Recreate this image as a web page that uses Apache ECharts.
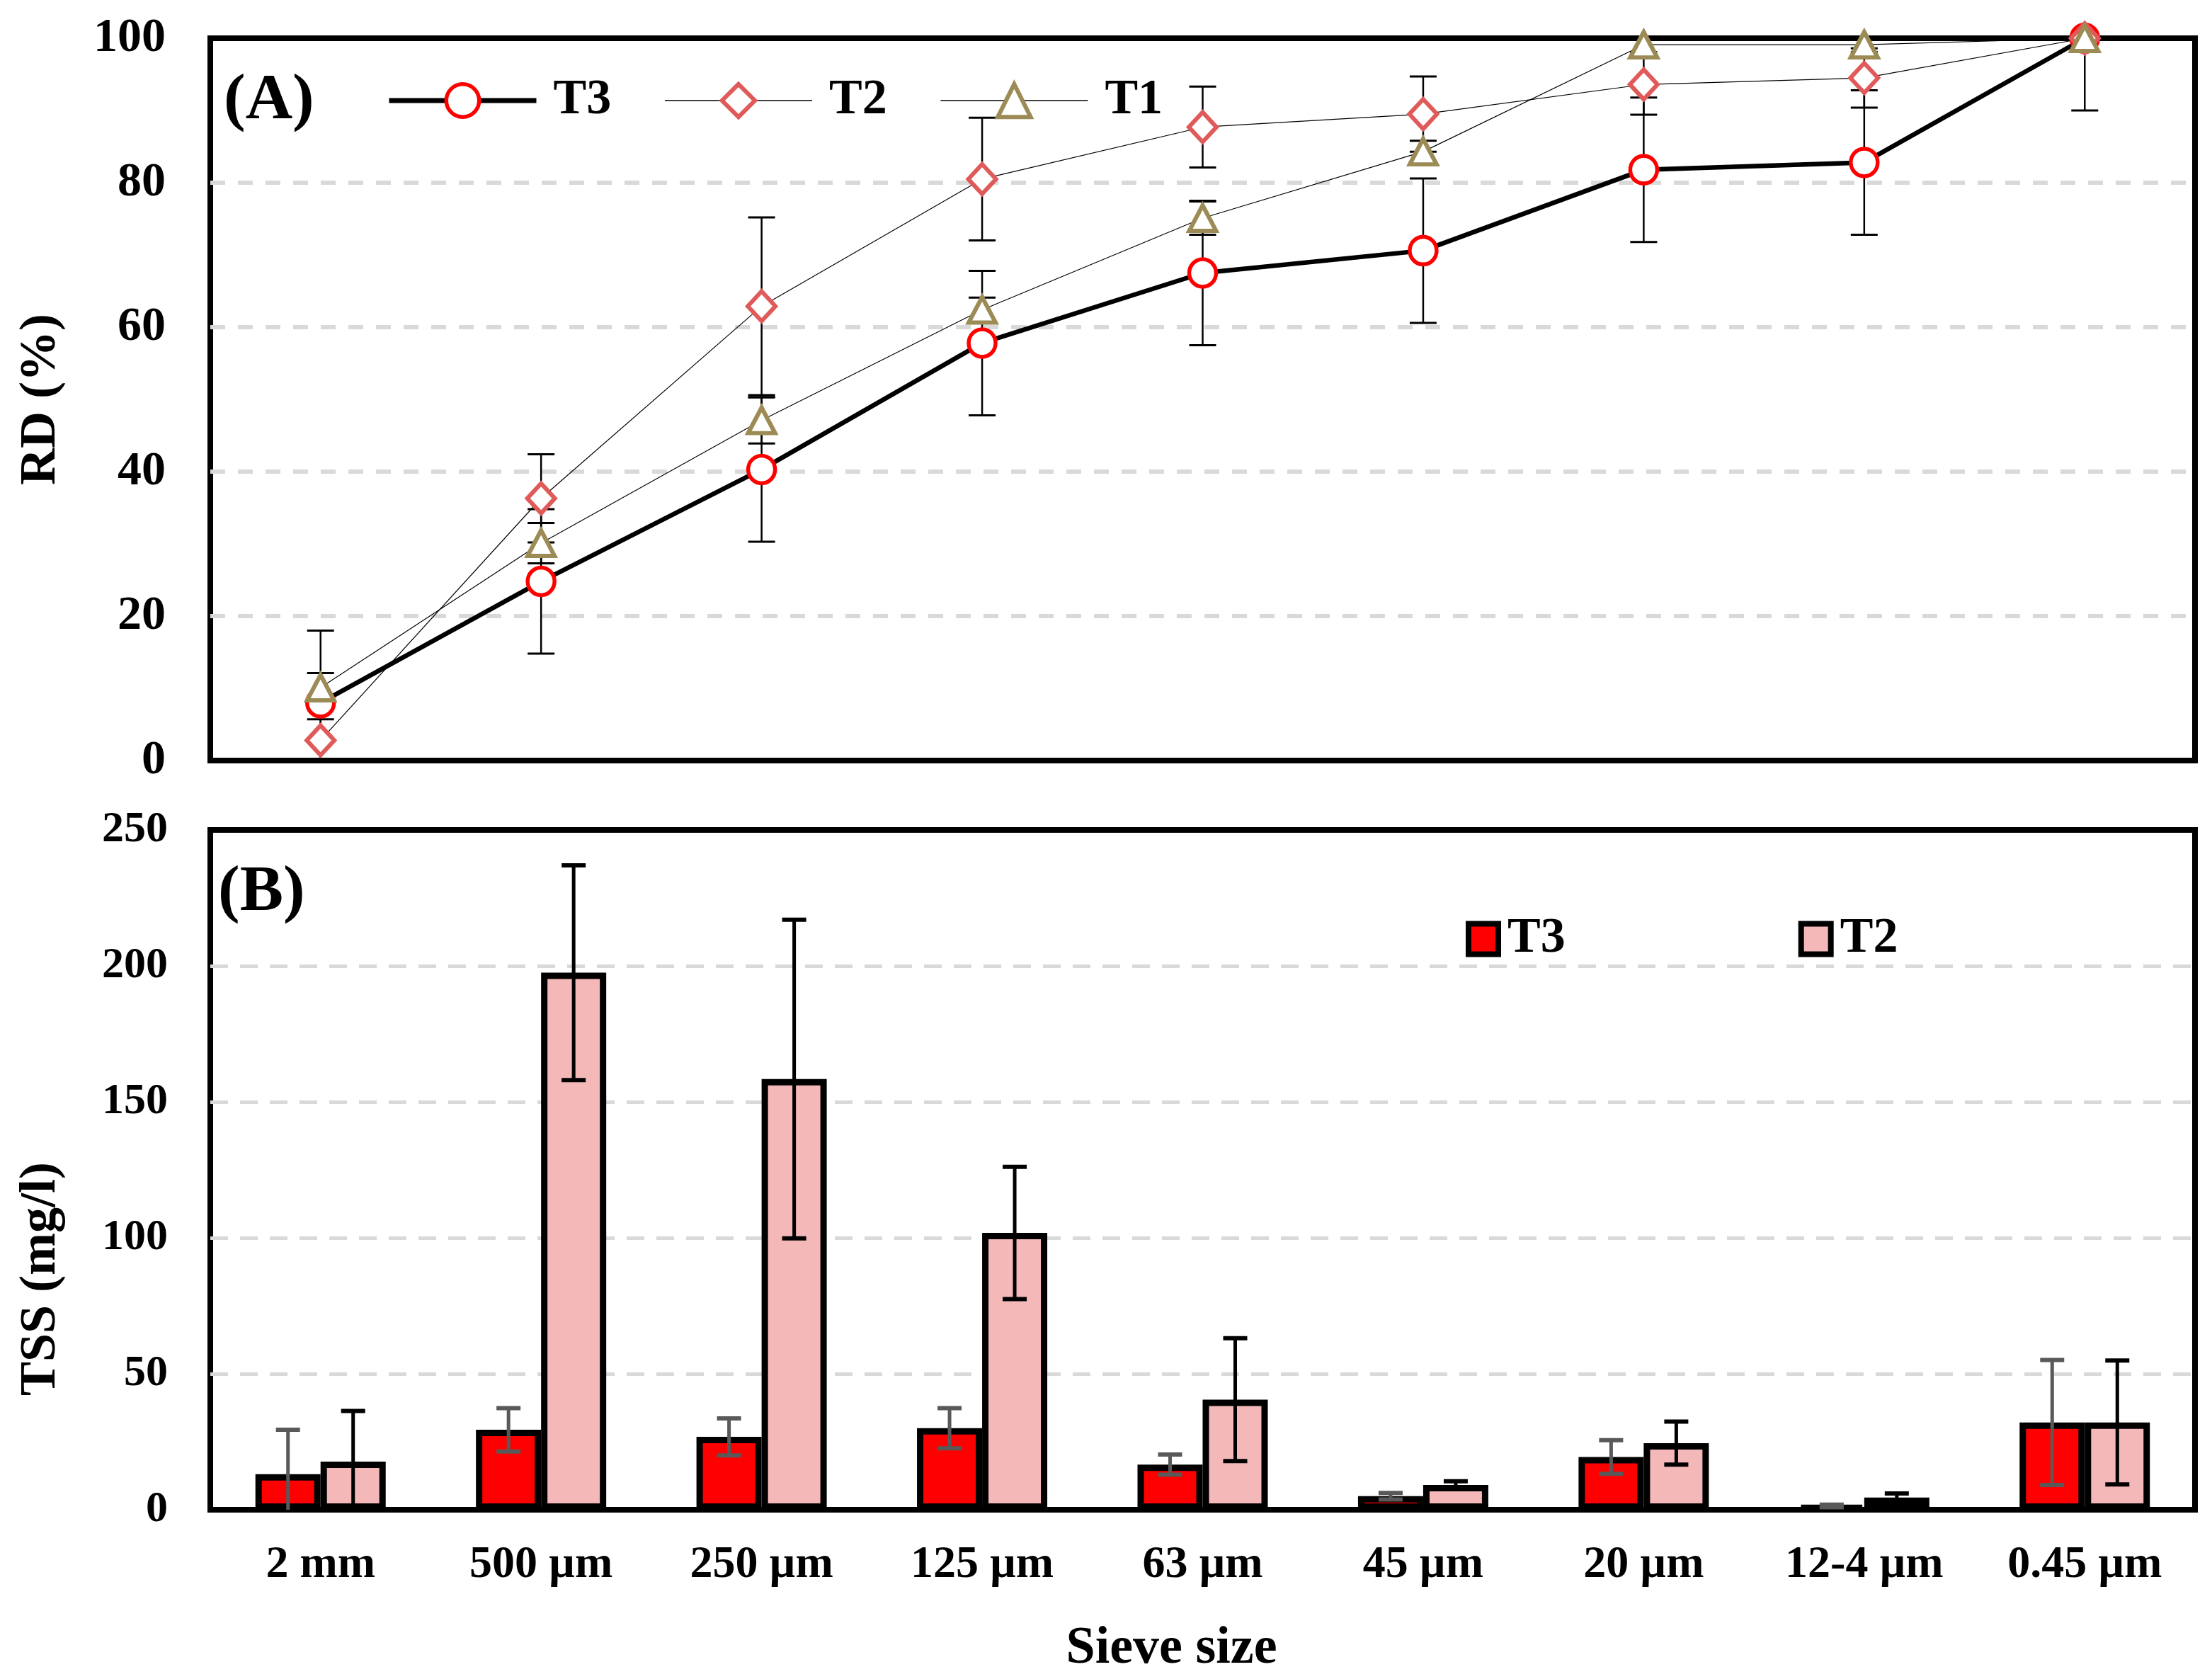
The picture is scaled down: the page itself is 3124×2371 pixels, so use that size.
<!DOCTYPE html>
<html>
<head>
<meta charset="utf-8">
<script src="https://cdn.jsdelivr.net/npm/echarts@6/dist/echarts.min.js"></script>
<style>
  html, body { margin: 0; padding: 0; background: #fff; }
  #chart { width: 3124px; height: 2371px; }
</style>
</head>
<body>
<div id="chart"></div>
<script>
// ---------- data ----------
const categories = ['2 mm', '500 µm', '250 µm', '125 µm', '63 µm', '45 µm', '20 µm', '12-4 µm', '0.45 µm'];

// (A) RD (%)
const rdT3    = [8.0, 24.8, 40.3, 57.8, 67.5, 70.6, 81.8, 82.8, 100];
const rdT3Err = [10, 10, 10, 10, 10, 10, 10, 10, 10];
const rdT2    = [2.8, 36.3, 62.9, 80.5, 87.7, 89.5, 93.6, 94.5, 100];
const rdT2Err = [2.9, 6.1, 12.3, 8.5, 5.6, 5.2, 4.2, 4.1, 0];
const rdT1    = [10.1, 30.1, 47.1, 62.4, 75.1, 84.3, 99.1, 99.1, 100];
const rdT1Err = [2.0, 2.8, 3.2, 1.7, 2.3, 1.5, 1.0, 1.0, 0];
const rdTicks = { min: 0, max: 100, interval: 20 };

// (B) TSS (mg/l)
const tssT3    = [13.1, 29.4, 26.8, 30.0, 16.6, 5.0, 19.4, 1.4, 32.1];
const tssT3Err = [16.3, 8.0, 6.8, 7.4, 3.7, 1.2, 6.2, 0.5, 23.0];
const tssT2    = [17.7, 197.5, 158.4, 101.8, 40.5, 9.1, 24.5, 4.5, 32.1];
const tssT2Err = [18.6, 39.5, 58.6, 24.3, 22.6, 1.4, 7.9, 1.5, 22.8];
const tssTicks = { min: 0, max: 250, interval: 50 };

// ---------- style ----------
const FONT = "'Liberation Serif', 'Times New Roman', serif";
const BAR_W = 92;

function errData(vals, errs) {
  return vals.map((v, i) => [i, v, errs[i]]);
}

function errRender(offset, color, lw, capW, capLw, yMin, yMax) {
  return function (params, api) {
    const i = api.value(0), v = api.value(1), e = api.value(2);
    if (!(e > 0)) return { type: 'group', children: [] };
    const hiV = Math.min(v + e, yMax), loV = Math.max(v - e, yMin);
    const hi = api.coord([i, hiV]);
    const lo = api.coord([i, loV]);
    const x = hi[0] + offset;
    const children = [{
      type: 'line',
      shape: { x1: x, y1: hi[1], x2: x, y2: lo[1] },
      style: { stroke: color, lineWidth: lw }
    }];
    if (v + e <= yMax) children.push({
      type: 'line',
      shape: { x1: x - capW / 2, y1: hi[1], x2: x + capW / 2, y2: hi[1] },
      style: { stroke: color, lineWidth: capLw }
    });
    if (v - e >= yMin) children.push({
      type: 'line',
      shape: { x1: x - capW / 2, y1: lo[1], x2: x + capW / 2, y2: lo[1] },
      style: { stroke: color, lineWidth: capLw }
    });
    return { type: 'group', children };
  };
}

const chart = echarts.init(document.getElementById('chart'), null, { renderer: 'canvas' });

const option = {
  backgroundColor: '#ffffff',
  animation: false,
  grid: [
    { left: 297, top: 54, width: 2803, height: 1020, show: true, borderColor: '#000', borderWidth: 8, backgroundColor: 'transparent' },
    { left: 297, top: 1172, width: 2803, height: 960, show: true, borderColor: '#000', borderWidth: 8, backgroundColor: 'transparent' }
  ],
  xAxis: [
    {
      type: 'category', gridIndex: 0, data: categories, boundaryGap: true,
      axisLine: { show: false }, axisTick: { show: false }, axisLabel: { show: false }, splitLine: { show: false }
    },
    {
      type: 'category', gridIndex: 1, data: categories, boundaryGap: true,
      axisLine: { show: false }, axisTick: { show: false }, splitLine: { show: false },
      axisLabel: { show: true, margin: 46, fontFamily: FONT, fontWeight: 'bold', fontSize: 64, color: '#000' },
      name: 'Sieve size', nameLocation: 'middle', nameGap: 160,
      nameTextStyle: { fontFamily: FONT, fontWeight: 'bold', fontSize: 74, color: '#000', padding: [0, 88, 0, 0] }
    }
  ],
  yAxis: [
    {
      type: 'value', gridIndex: 0, min: rdTicks.min, max: rdTicks.max, interval: rdTicks.interval,
      axisLine: { show: false }, axisTick: { show: false },
      axisLabel: { margin: 63, fontFamily: FONT, fontWeight: 'bold', fontSize: 68, color: '#000' },
      splitLine: { show: true, showMinLine: false, showMaxLine: false, lineStyle: { color: '#d9d9d9', width: 6, type: [21, 18] } },
      name: 'RD (%)', nameLocation: 'middle', nameGap: 203, nameRotate: 90,
      nameTextStyle: { fontFamily: FONT, fontWeight: 'bold', fontSize: 72, color: '#000' }
    },
    {
      type: 'value', gridIndex: 1, min: tssTicks.min, max: tssTicks.max, interval: tssTicks.interval,
      axisLine: { show: false }, axisTick: { show: false },
      axisLabel: { margin: 60, fontFamily: FONT, fontWeight: 'bold', fontSize: 62, color: '#000' },
      splitLine: { show: true, showMinLine: false, showMaxLine: false, lineStyle: { color: '#d9d9d9', width: 5, type: [25, 17] } },
      name: 'TSS (mg/l)', nameLocation: 'middle', nameGap: 203, nameRotate: 90,
      nameTextStyle: { fontFamily: FONT, fontWeight: 'bold', fontSize: 72, color: '#000', padding: [0, 308, 0, 0] }
    }
  ],
  legend: [
    {
      left: 546, top: 107, orient: 'horizontal', padding: 0,
      itemWidth: 208, itemHeight: 58, itemGap: 75,
      selectedMode: false,
      textStyle: { fontFamily: FONT, fontWeight: 'bold', fontSize: 70, color: '#000', padding: [0, 0, 0, 19] },
      data: [
        { name: 'T3', lineStyle: { color: '#000', width: 7 }, itemStyle: { color: '#fff', borderColor: '#ff0000', borderWidth: 5.5 } },
        { name: 'T2', lineStyle: { color: '#000', width: 1.5 }, itemStyle: { color: '#fff', borderColor: '#e05a5a', borderWidth: 6 } },
        { name: 'T1', lineStyle: { color: '#000', width: 1.5 }, itemStyle: { color: '#fff', borderColor: '#9c8b55', borderWidth: 6 } }
      ]
    },
    {
      left: 2070, top: 1291, orient: 'horizontal', padding: 0,
      itemWidth: 42, itemHeight: 43, itemGap: 329, icon: 'rect',
      selectedMode: false,
      formatter: function (name) { return name.replace(' TSS', ''); },
      textStyle: { fontFamily: FONT, fontWeight: 'bold', fontSize: 70, color: '#000', padding: [0, 0, 0, 8] },
      data: [
        { name: 'T3 TSS', itemStyle: { color: '#ff0000', borderColor: '#000', borderWidth: 8 } },
        { name: 'T2 TSS', itemStyle: { color: '#f4b8b8', borderColor: '#000', borderWidth: 8 } }
      ]
    }
  ],
  graphic: [
    { type: 'text', x: 316, y: 143, z: 100,
      style: { text: '(A)', fontFamily: FONT, fontWeight: 'bold', fontSize: 92, fill: '#000', align: 'left', verticalAlign: 'middle', textAlign: 'left', textVerticalAlign: 'middle' } },
    { type: 'text', x: 308, y: 1261, z: 100,
      style: { text: '(B)', fontFamily: FONT, fontWeight: 'bold', fontSize: 92, fill: '#000', align: 'left', verticalAlign: 'middle', textAlign: 'left', textVerticalAlign: 'middle' } }
  ],
  series: [
    // ----- (A) error bars -----
    { name: 'T3 err', type: 'custom', xAxisIndex: 0, yAxisIndex: 0, z: 1, clip: false,
      renderItem: errRender(0, '#000', 2.5, 38, 3, rdTicks.min, rdTicks.max), encode: { x: 0, y: 1 }, data: errData(rdT3, rdT3Err) },
    { name: 'T2 err', type: 'custom', xAxisIndex: 0, yAxisIndex: 0, z: 1, clip: false,
      renderItem: errRender(0, '#000', 2.5, 38, 3, rdTicks.min, rdTicks.max), encode: { x: 0, y: 1 }, data: errData(rdT2, rdT2Err) },
    { name: 'T1 err', type: 'custom', xAxisIndex: 0, yAxisIndex: 0, z: 1, clip: false,
      renderItem: errRender(0, '#000', 2.5, 38, 3, rdTicks.min, rdTicks.max), encode: { x: 0, y: 1 }, data: errData(rdT1, rdT1Err) },
    // ----- (A) lines -----
    { name: 'T3', type: 'line', xAxisIndex: 0, yAxisIndex: 0, z: 3, clip: false,
      data: rdT3, symbol: 'circle', symbolSize: [38, 39], showAllSymbol: true,
      lineStyle: { color: '#000', width: 6.5 },
      itemStyle: { color: '#fff', borderColor: '#ff0000', borderWidth: 5.5 } },
    { name: 'T2', type: 'line', xAxisIndex: 0, yAxisIndex: 0, z: 3, clip: false,
      data: rdT2, symbol: 'diamond', symbolSize: [39, 42], showAllSymbol: true,
      lineStyle: { color: '#000', width: 1.2 },
      itemStyle: { color: '#fff', borderColor: '#e05a5a', borderWidth: 6 } },
    { name: 'T1', type: 'line', xAxisIndex: 0, yAxisIndex: 0, z: 3, clip: false,
      data: rdT1, symbol: 'triangle', symbolSize: [38, 36], showAllSymbol: true,
      lineStyle: { color: '#000', width: 1.2 },
      itemStyle: { color: '#fff', borderColor: '#9c8b55', borderWidth: 6 } },
    // ----- (B) bars -----
    { name: 'T3 TSS', type: 'bar', xAxisIndex: 1, yAxisIndex: 1, z: 2,
      data: tssT3, barWidth: BAR_W, barGap: '0%',
      itemStyle: { color: '#ff0000', borderColor: '#000', borderWidth: 9 } },
    { name: 'T2 TSS', type: 'bar', xAxisIndex: 1, yAxisIndex: 1, z: 2,
      data: tssT2, barWidth: BAR_W, barGap: '0%',
      itemStyle: { color: '#f4b8b8', borderColor: '#000', borderWidth: 9 } },
    // ----- (B) error bars -----
    { name: 'T3 TSS err', type: 'custom', xAxisIndex: 1, yAxisIndex: 1, z: 4, clip: false,
      renderItem: errRender(-BAR_W / 2, '#595959', 5, 34, 6, tssTicks.min, tssTicks.max), encode: { x: 0, y: 1 }, data: errData(tssT3, tssT3Err) },
    { name: 'T2 TSS err', type: 'custom', xAxisIndex: 1, yAxisIndex: 1, z: 4, clip: false,
      renderItem: errRender(BAR_W / 2, '#000', 5, 34, 6, tssTicks.min, tssTicks.max), encode: { x: 0, y: 1 }, data: errData(tssT2, tssT2Err) }
  ]
};

chart.setOption(option);
</script>
</body>
</html>
